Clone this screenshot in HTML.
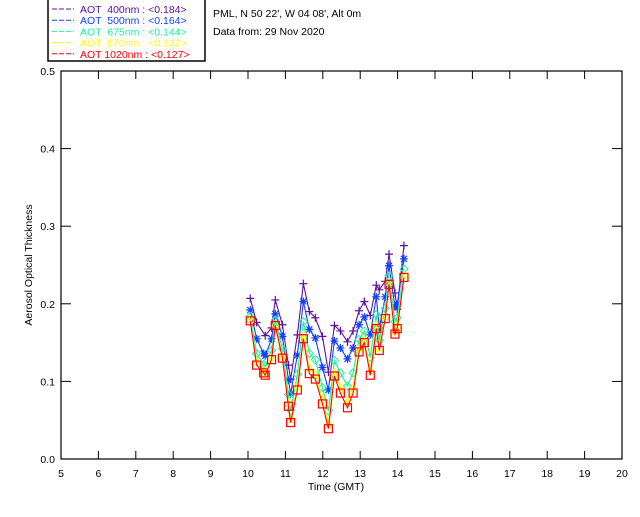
<!DOCTYPE html>
<html><head><meta charset="utf-8"><style>
body{margin:0;background:#fff;width:640px;height:512px;overflow:hidden}
svg text{font-family:"Liberation Sans",sans-serif;font-size:10.5px}
</style></head><body>
<svg id="chart" width="640" height="512">
<rect x="48" y="-2" width="157" height="63" fill="#fff" stroke="#000" stroke-width="1.5"/>
<g id="legend"></g>
<text x="213" y="17">PML, N 50 22', W 04 08', Alt 0m</text>
<text x="213" y="35">Data from: 29 Nov 2020</text>
<g id="axes"></g>
<g id="series"></g>
<text x="336" y="490" text-anchor="middle">Time (GMT)</text>
<text transform="translate(32,265) rotate(-90)" text-anchor="middle">Aerosol Optical Thickness</text>
</svg>
<script>
const times=[10.06,10.23,10.42,10.46,10.63,10.73,10.92,11.08,11.14,11.32,11.48,11.64,11.80,11.99,12.15,12.31,12.47,12.66,12.81,12.97,13.11,13.27,13.43,13.51,13.67,13.77,13.93,13.99,14.17];
const aot400=[.207,.176,.159,.169,.205,.173,.121,.103,.160,.226,.190,.182,.158,.112,.172,.165,.151,.165,.191,.203,.185,.224,.218,.229,.264,.214,.193,.275];
const times400=[10.06,10.23,10.46,10.63,10.73,10.92,11.08,11.14,11.32,11.48,11.64,11.80,11.99,12.15,12.31,12.47,12.66,12.81,12.97,13.11,13.27,13.43,13.51,13.67,13.77,13.93,13.99,14.17];
const aot500=[.192,.155,.136,.133,.155,.187,.158,.102,.084,.134,.203,.167,.156,.118,.089,.152,.143,.129,.143,.173,.183,.160,.209,.169,.209,.249,.196,.199,.258];
const aot675=[.184,.136,.122,.119,.140,.179,.142,.083,.063,.109,.177,.136,.128,.092,.062,.127,.111,.094,.111,.154,.165,.131,.186,.153,.194,.236,.177,.182,.245];
const aot870=[.180,.125,.114,.111,.131,.174,.133,.072,.051,.094,.161,.117,.109,.077,.045,.112,.092,.073,.092,.142,.154,.114,.173,.143,.184,.228,.165,.172,.237];
const aot1020=[.178,.121,.111,.108,.128,.172,.130,.068,.047,.089,.155,.110,.103,.071,.039,.107,.085,.066,.085,.138,.150,.108,.168,.140,.181,.225,.161,.168,.234];
const xTicks=[5,6,7,8,9,10,11,12,13,14,15,16,17,18,19,20];
const yTicks=[0,0.1,0.2,0.3,0.4,0.5];
const legendLabels=["AOT  400nm : <0.184>","AOT  500nm : <0.164>","AOT  675nm : <0.144>","AOT  870nm : <0.132>","AOT 1020nm : <0.127>"];
const NS="http://www.w3.org/2000/svg";
const L=61,R=622,T=71,B=459;
const xs=t=>L+(t-5)/15*(R-L);
const ys=v=>B-v/0.5*(B-T);
function mk(tag,attrs,parent){const e=document.createElementNS(NS,tag);for(const k in attrs)e.setAttribute(k,attrs[k]);parent.appendChild(e);return e;}
const ax=document.getElementById('axes');
const fr=mk('rect',{x:L,y:T,width:R-L,height:B-T,fill:'none',stroke:'#000','stroke-width':1.2},ax);


xTicks.forEach(t=>{
  const x=xs(t);
  if(t>5&&t<20){mk('line',{x1:x,x2:x,y1:B,y2:B-8,stroke:'#000'},ax);mk('line',{x1:x,x2:x,y1:T,y2:T+8,stroke:'#000'},ax);}
  const tx=mk('text',{x:x,y:B+18,'text-anchor':'middle'},ax);tx.textContent=t;
  
  
});
yTicks.forEach(v=>{
  const y=ys(v);
  if(v>0&&v<0.5){mk('line',{x1:L,x2:L+10,y1:y,y2:y,stroke:'#000'},ax);mk('line',{x1:R,x2:R-10,y1:y,y2:y,stroke:'#000'},ax);}
  const tx=mk('text',{x:L-6,y:y+4,'text-anchor':'end'},ax);tx.textContent=v.toFixed(1);
  
  
});
const sg=document.getElementById('series');
const colors=['#6010a0','#1040ff','#20f0a0','#ffff00','#ff0000'];
function marker(kind,x,y,c,g){
  if(kind==='plus'){mk('path',{d:`M${x-4} ${y}H${x+4}M${x} ${y-4}V${y+4}`,stroke:c,'stroke-width':1.2},g);}
  else if(kind==='star'){mk('path',{d:`M${x-4} ${y}H${x+4}M${x} ${y-4}V${y+4}M${x-3} ${y-3}L${x+3} ${y+3}M${x-3} ${y+3}L${x+3} ${y-3}`,stroke:c,'stroke-width':1.2},g);}
  else if(kind==='diamond'){mk('path',{d:`M${x} ${y-4}L${x+4} ${y}L${x} ${y+4}L${x-4} ${y}Z`,stroke:c,fill:'none'},g);}
  else if(kind==='tri'){mk('path',{d:`M${x} ${y-4}L${x+4} ${y+3}L${x-4} ${y+3}Z`,stroke:c,fill:'none'},g);}
  else {mk('rect',{x:x-4,y:y-4,width:8,height:8,stroke:c,fill:'none','stroke-width':1.2},g);}
}
const defs=[[times400,aot400,'plus','series-400nm'],[times,aot500,'star','series-500nm'],[times,aot675,'diamond','series-675nm'],[times,aot870,'tri','series-870nm'],[times,aot1020,'square','series-1020nm']];
defs.forEach((d,i)=>{
  const g=mk('g',{},sg);
  
  
  const pts=d[1].map((v,j)=>xs(d[0][j])+','+ys(v)).join(' ');
  mk('polyline',{points:pts,fill:'none',stroke:colors[i],'stroke-width':1.1},g);
  d[1].forEach((v,j)=>marker(d[2],xs(d[0][j]),ys(v),colors[i],g));
});
const lg=document.getElementById('legend');
legendLabels.forEach((s,i)=>{
  const y=13+i*11.2;
  mk('line',{x1:52,x2:74,y1:y-4,y2:y-4,stroke:colors[i],'stroke-dasharray':'5,2'},lg);
  const tx=mk('text',{x:80,y:y,fill:colors[i]},lg);
  tx.setAttribute('style','white-space:pre');
  tx.textContent=s;
  
  
});
</script>
</body></html>
